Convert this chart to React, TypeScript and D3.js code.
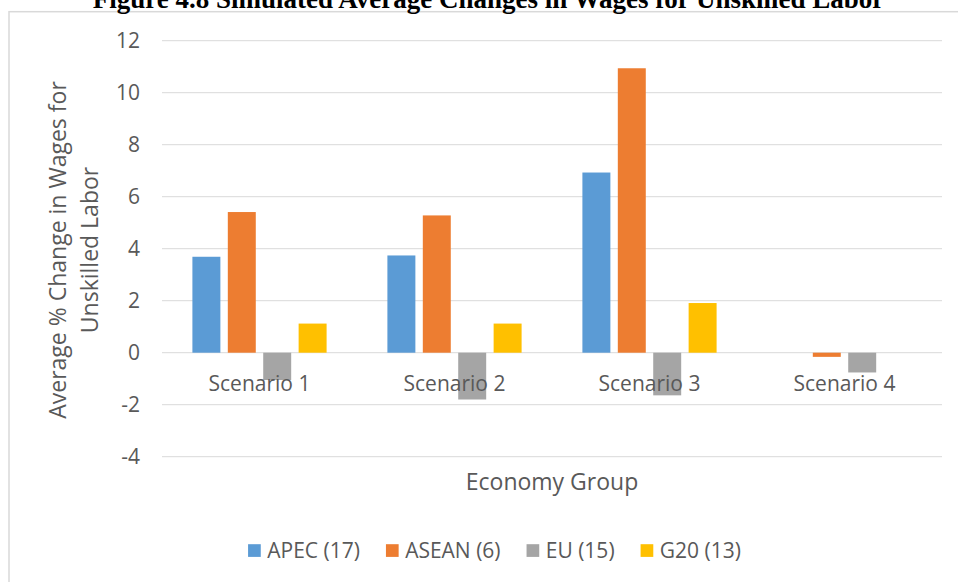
import React, { useEffect, useRef } from 'react';
import * as d3 from 'd3';

const scenarios = ['Scenario 1', 'Scenario 2', 'Scenario 3', 'Scenario 4'];
const seriesNames = ['APEC (17)', 'ASEAN (6)', 'EU (15)', 'G20 (13)'];
const apec = [3.69, 3.74, 6.93, 0];
const asean = [5.41, 5.28, 10.94, -0.16];
const eu = [-1.05, -1.8, -1.64, -0.76];
const g20 = [1.12, 1.12, 1.91, 0];
const yTicks = [-4, -2, 0, 2, 4, 6, 8, 10, 12];
const colors = ['#5B9BD5', '#ED7D31', '#A5A5A5', '#FFC000'];

const titleText = 'Figure 4.8 Simulated Average Changes in Wages for Unskilled Labor';
const yTitle1 = 'Average % Change in Wages for';
const yTitle2 = 'Unskilled Labor';
const xTitle = 'Economy Group';

const W = 958;
const H = 582;
const FONT = "'Open Sans', 'Liberation Sans', sans-serif";
const TXT = '#595959';

export default function App() {
  const ref = useRef<SVGSVGElement | null>(null);

  useEffect(() => {
    const svg = d3.select(ref.current);
    svg.selectAll('*').remove();

    const values = [apec, asean, eu, g20];
    const plotL = 162, plotR = 942;
    const y = d3.scaleLinear().domain([-4, 12]).range([456.7, 40.7]);
    const x0 = d3.scaleBand<string>().domain(scenarios).range([plotL, plotR]);
    const x1 = d3.scaleBand<string>().domain(seriesNames).range([30.4, x0.bandwidth() - 30.4]).paddingInner(0.21);

    // frame
    svg.append('rect').attr('x', 9).attr('y', 11.7).attr('width', 971).attr('height', 600)
      .attr('fill', '#fff').attr('stroke', '#d9d9d9').attr('stroke-width', 1.5);

    // title
    svg.append('text').attr('x', 488.5).attr('y', 8).attr('text-anchor', 'middle')
      .attr('font-family', "'Liberation Serif', 'Times New Roman', serif").attr('font-weight', 'bold')
      .attr('font-size', 27).attr('fill', '#000').text(titleText);

    // gridlines
    svg.append('g').selectAll('line').data(yTicks).join('line')
      .attr('x1', plotL).attr('x2', plotR)
      .attr('y1', d => y(d)).attr('y2', d => y(d))
      .attr('stroke', '#d9d9d9').attr('stroke-width', 1);

    // y tick labels
    svg.append('g').selectAll('text').data(yTicks).join('text')
      .attr('x', 140).attr('y', d => y(d) + 7.5).attr('text-anchor', 'end')
      .attr('font-family', FONT).attr('font-size', 21).attr('fill', TXT)
      .text(d => String(d));

    // bars
    const g = svg.append('g');
    scenarios.forEach((sc, i) => {
      seriesNames.forEach((s, j) => {
        const v = values[j][i];
        if (v === 0) return;
        g.append('rect')
          .attr('x', (x0(sc) as number) + (x1(s) as number))
          .attr('width', x1.bandwidth())
          .attr('y', y(Math.max(0, v)))
          .attr('height', Math.abs(y(v) - y(0)))
          .attr('fill', colors[j]);
      });
    });

    // category labels
    svg.append('g').selectAll('text').data(scenarios).join('text')
      .attr('x', d => (x0(d) as number) + x0.bandwidth() / 2).attr('y', 391)
      .attr('text-anchor', 'middle')
      .attr('font-family', FONT).attr('font-size', 21).attr('fill', TXT)
      .text(d => d);

    // x title
    svg.append('text').attr('x', (plotL + plotR) / 2).attr('y', 490).attr('text-anchor', 'middle')
      .attr('font-family', FONT).attr('font-size', 23).attr('fill', TXT).text(xTitle);

    // y title
    const yt = svg.append('g').attr('font-family', FONT).attr('font-size', 23).attr('fill', TXT)
      .attr('text-anchor', 'middle');
    yt.append('text').attr('transform', 'translate(66,250) rotate(-90)').text(yTitle1);
    yt.append('text').attr('transform', 'translate(98,250) rotate(-90)').text(yTitle2);

    // legend
    const lg = svg.append('g');
    const sq = 12.7, gapSq = 6.5, gapItem = 26;
    const items = seriesNames.map((s, j) => {
      const it = lg.append('g');
      it.append('rect').attr('x', 0).attr('y', -6.3).attr('width', sq).attr('height', sq).attr('fill', colors[j]);
      const t = it.append('text').attr('x', sq + gapSq).attr('y', 7.5)
        .attr('font-family', FONT).attr('font-size', 21).attr('fill', TXT).text(s);
      const w = (t.node() as SVGTextElement).getComputedTextLength();
      return { it, w: sq + gapSq + w };
    });
    const total = d3.sum(items, d => d.w) + gapItem * (items.length - 1);
    let cx = 494.5 - total / 2;
    items.forEach(d => {
      d.it.attr('transform', `translate(${cx},550.5)`);
      cx += d.w + gapItem;
    });
  }, []);

  return (
    <svg ref={ref} width={W} height={H} style={{ position: 'absolute', left: 0, top: 0, background: '#fff' }} />
  );
}
